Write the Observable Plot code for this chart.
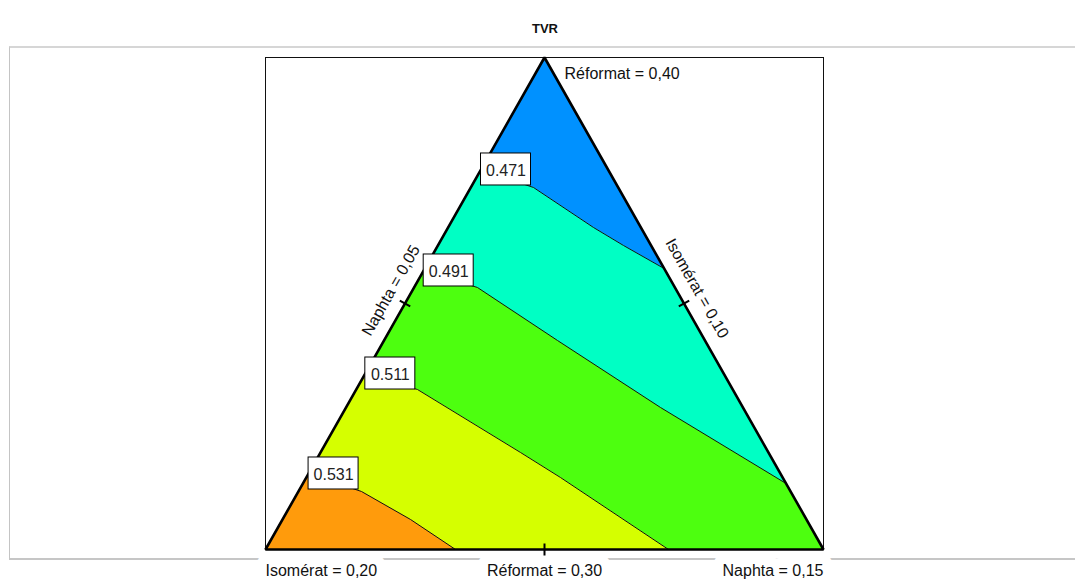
<!DOCTYPE html>
<html>
<head>
<meta charset="utf-8">
<script src="https://cdn.jsdelivr.net/npm/d3@7"></script>
<script src="https://cdn.jsdelivr.net/npm/@observablehq/plot@0.6"></script>
<style>
  body { margin: 0; background: #fff; font-family: "Liberation Sans", Arial, sans-serif; }
  #wrap { position: relative; width: 1075px; height: 583px; overflow: hidden; }
  #title { position: absolute; top: 21px; left: 545px; transform: translateX(-50%);
           font: bold 13px "Liberation Sans", Arial, sans-serif; color: #111; }
  #panel { position: absolute; left: 9px; top: 46px; width: 1100px; height: 510px;
           border-top: 2px solid #d6d6d6; border-left: 1px solid #c4c4c4; border-bottom: 2px solid #c6c6c6; }
  #chart { position: absolute; left: 0; top: 47px; }
</style>
</head>
<body>
<div id="wrap">
  <div id="title">TVR</div>
  <div id="panel"></div>
  <div id="chart"></div>
</div>
<script>
// Mixture triangle: u runs along the base (Réformat = 0,30), v from the base (0) to the apex (1).
const vertexA = [0, 0];   // Isomérat = 0,20
const vertexB = [1, 0];   // Naphta = 0,15
const vertexC = [0.5, 1]; // Réformat = 0,40

// TVR iso-lines, each from the left side towards the right side / base
const levels = [0.471, 0.491, 0.511, 0.531];
const contour471 = [[0.3862, 0.7724], [0.4803, 0.7358], [0.5878, 0.6545], [0.6416, 0.6179], [0.7144, 0.5711]];
const contour491 = [[0.2835, 0.5671], [0.3799, 0.5325], [0.5233, 0.4248], [0.7079, 0.2886], [0.9329, 0.1341]];
const contour511 = [[0.1789, 0.3577], [0.2724, 0.3252], [0.4570, 0.1972], [0.5287, 0.1463], [0.7222, 0]];
const contour531 = [[0.0772, 0.1545], [0.1720, 0.1179], [0.2599, 0.0610], [0.3405, 0]];
const contours = [contour471, contour491, contour511, contour531];

// Band colours, from the lowest TVR (apex) to the highest (Isomérat corner)
const bandColors = ["#0091ff", "#00ffc4", "#4dff0f", "#d5ff00", "#ff9b0c"];

// Side labels
const cornerLabels = ["Isomérat = 0,20", "Réformat = 0,30", "Naphta = 0,15"];
const apexLabel = "Réformat = 0,40";
const sideLabels = ["Naphta = 0,05", "Isomérat = 0,10"];

// Layout
const W = 1075, H = 536;
const mL = 265, mR = 252, mT = 10, mB = 34;
const pxU = 1 / (W - mL - mR), pxV = 1 / (H - mT - mB); // one pixel in data units

const rev = a => a.slice().reverse();
const bands = [
  [vertexC, ...rev(contour471)],
  [...contour471, ...rev(contour491)],
  [...contour491, vertexB, ...rev(contour511)],
  [...contour511, ...rev(contour531)],
  [...contour531, vertexA]
];

const sideAngle = Math.atan2(1 / pxV, 0.5 / pxU) * 180 / Math.PI; // slope of the sides on screen
const leftMid = [0.25, 0.5], rightMid = [0.75, 0.5], baseMid = [0.5, 0];

// small ticks across the middle of each side
function tickAt(p, nx, ny, half) { // nx, ny: screen-space unit normal
  return {x1: p[0] - nx * half * pxU, y1: p[1] + ny * half * pxV,
          x2: p[0] + nx * half * pxU, y2: p[1] - ny * half * pxV};
}
const a = sideAngle * Math.PI / 180;
const ticks = [
  tickAt(baseMid, 0, 1, 6),
  tickAt(leftMid, Math.sin(a), Math.cos(a), 6),
  tickAt(rightMid, Math.sin(a), -Math.cos(a), 6)
];

const labelBoxes = contours.map((c, i) => ({u: c[0][0], v: c[0][1], text: String(levels[i])}));

const textFont = "Liberation Sans, Arial, sans-serif";
// base labels sit on a white knock-out so the panel border breaks behind them
const baseLabel = (p, text, anchor) => Plot.text([p], {x: d => d[0], y: d => d[1], text: [text],
  textAnchor: anchor, dy: 21, fontSize: 16, fill: "#111",
  stroke: "#fff", strokeWidth: 20, paintOrder: "stroke", strokeLinejoin: "round"});

const plot = Plot.plot({
  width: W, height: H,
  marginLeft: mL, marginRight: mR, marginTop: mT, marginBottom: mB,
  x: {domain: [0, 1], axis: null},
  y: {domain: [0, 1], axis: null},
  style: {background: "transparent", overflow: "visible", fontFamily: textFont},
  marks: [
    Plot.frame({stroke: "#111", strokeWidth: 1}),
    ...bands.map((pts, i) => Plot.line(pts, {x: d => d[0], y: d => d[1], curve: "linear-closed",
      fill: bandColors[i], stroke: bandColors[i], strokeWidth: 0.5})),
    ...contours.map(c => Plot.line(c, {x: d => d[0], y: d => d[1], stroke: "#111", strokeWidth: 1})),
    baseLabel(vertexA, cornerLabels[0], "start"),
    baseLabel(baseMid, cornerLabels[1], "middle"),
    baseLabel(vertexB, cornerLabels[2], "end"),
    Plot.line([vertexA, vertexB, vertexC], {x: d => d[0], y: d => d[1], curve: "linear-closed",
      stroke: "#000", strokeWidth: 2.6, strokeLinejoin: "miter"}),
    Plot.link(ticks, {x1: "x1", y1: "y1", x2: "x2", y2: "y2", stroke: "#000", strokeWidth: 2}),
    Plot.rect(labelBoxes, {x1: "u", x2: "u", y1: "v", y2: "v",
      insetLeft: 0, insetRight: -50, insetTop: -16, insetBottom: -16,
      fill: "#fff", stroke: "#000", strokeWidth: 1}),
    Plot.text(labelBoxes, {x: "u", y: "v", text: "text", dx: 25, dy: 1, textAnchor: "middle",
      fontSize: 16, fill: "#222"}),
    Plot.text([vertexC], {x: d => d[0], y: d => d[1], text: [apexLabel], textAnchor: "start",
      dx: 20, dy: 16, fontSize: 16, fill: "#111"}),
    Plot.text([leftMid], {x: d => d[0], y: d => d[1], text: [sideLabels[0]], rotate: -sideAngle,
      dx: -14, dy: -13, fontSize: 16, fill: "#111"}),
    Plot.text([rightMid], {x: d => d[0], y: d => d[1], text: [sideLabels[1]], rotate: sideAngle,
      dx: 13, dy: -15, fontSize: 16, fill: "#111"})
  ]
});
document.getElementById("chart").appendChild(plot);
</script>
</body>
</html>
